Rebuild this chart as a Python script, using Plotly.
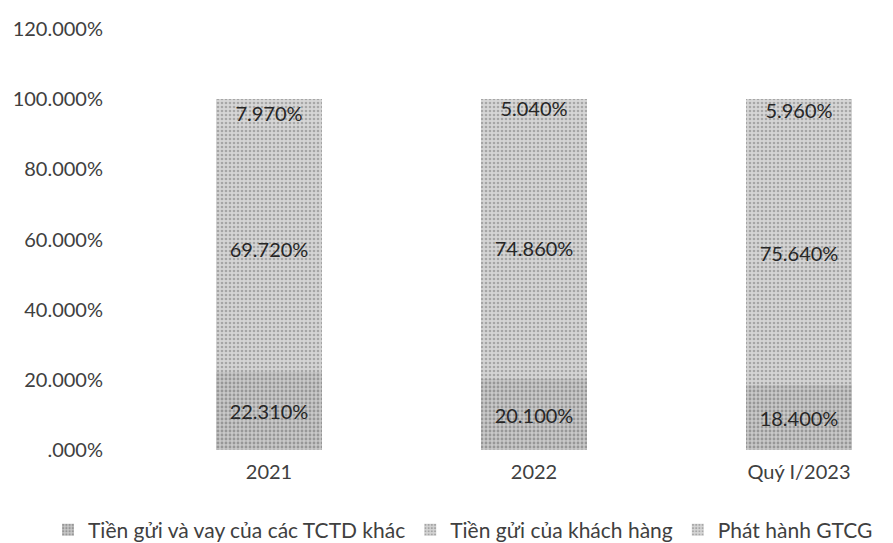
import plotly.graph_objects as go

categories = ["2021", "2022", "Quý I/2023"]
series_names = ["Tiền gửi và vay của các TCTD khác", "Tiền gửi của khách hàng", "Phát hành GTCG"]
tctd_values = [22.310, 20.100, 18.400]
khach_hang_values = [69.720, 74.860, 75.640]
gtcg_values = [7.970, 5.040, 5.960]
y_tick_values = [0, 20, 40, 60, 80, 100, 120]
y_tick_labels = [".000%", "20.000%", "40.000%", "60.000%", "80.000%", "100.000%", "120.000%"]

FONT = "Lato"
styles = [
    dict(bg="#c8c8c8", fg="#666666", sol=0.4),
    dict(bg="#d4d4d4", fg="#767676", sol=0.35),
    dict(bg="#d6d6d6", fg="#787878", sol=0.35),
]

fig = go.Figure()
for name, vals, st in zip(series_names, [tctd_values, khach_hang_values, gtcg_values], styles):
    fig.add_trace(go.Bar(
        name=name,
        x=categories,
        y=vals,
        width=0.40,
        marker=dict(
            color=st["bg"],
            line=dict(width=0),
            pattern=dict(shape=".", bgcolor=st["bg"], fgcolor=st["fg"], size=4, solidity=st["sol"]),
        ),
        texttemplate="%{y:.3f}%",
        textposition="inside",
        insidetextanchor="middle",
        constraintext="none",
        textangle=0,
        textfont=dict(family=FONT, size=20, color="#262626"),
        cliponaxis=False,
    ))

W, H = 893, 543
plot_left, plot_top, plot_bottom = 120, 21, 447
ppu = 265.0
first_center = 261.0
xmin = -(first_center - plot_left) / ppu
xmax = xmin + (W - plot_left) / ppu

fig.update_layout(
    width=W, height=H,
    barmode="stack",
    plot_bgcolor="white",
    paper_bgcolor="white",
    margin=dict(l=plot_left, r=0, t=plot_top, b=H - plot_bottom, pad=0),
    font=dict(family=FONT, size=20, color="#404040"),
    showlegend=True,
    legend=dict(
        orientation="h",
        x=(40 - plot_left) / (W - plot_left),
        xanchor="left",
        y=(plot_bottom - 528) / (plot_bottom - plot_top),
        yanchor="middle",
        font=dict(family=FONT, size=21, color="#404040"),
        itemwidth=30,
        traceorder="normal",
    ),
    xaxis=dict(
        type="category",
        range=[xmin, xmax],
        showgrid=False, zeroline=False, showline=False,
        ticks="", ticklabelstandoff=8,
        tickfont=dict(family=FONT, size=20, color="#404040"),
    ),
    yaxis=dict(
        range=[0, 120],
        tickvals=y_tick_values,
        ticktext=y_tick_labels,
        showgrid=False, zeroline=False, showline=False,
        ticks="", ticklabelstandoff=24,
        tickfont=dict(family=FONT, size=20, color="#404040"),
    ),
)

fig.write_html("out.html")
